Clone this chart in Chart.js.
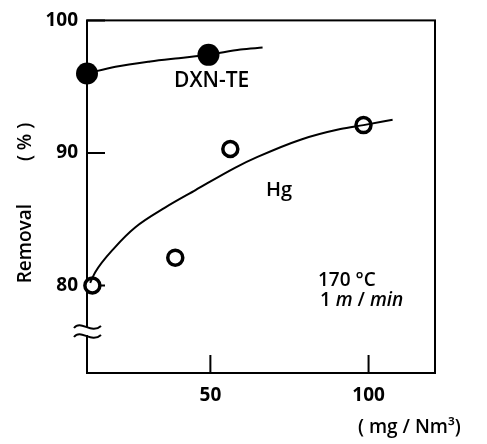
<!DOCTYPE html>
<html>
<head>
<meta charset="utf-8">
<script src="https://cdn.jsdelivr.net/npm/chart.js@4/dist/chart.umd.min.js"></script>
<style>
    html, body { margin: 0; padding: 0; background: #fff; }
    #wrap { width: 487px; height: 444px; }
</style>
</head>
<body>
<div id="wrap"><canvas id="removalChart" width="487" height="444"></canvas></div>
<script>
// values
const dxnPointsX = [11, 49.4];
const dxnPointsY = [96.0, 97.4];
const dxnCurveX = [11, 20, 31, 40, 49.4, 59.5, 66.5];
const dxnCurveY = [96.0, 96.5, 96.9, 97.15, 97.4, 97.8, 97.95];

const hgPointsX = [12.7, 38.9, 56.3, 98.4];
const hgPointsY = [80.0, 82.1, 90.3, 92.1];
const hgCurveX = [12, 13.6, 19.9, 26.3, 35.8, 45.3, 57.9, 64.9, 78.5, 91.1, 98.4, 107.6];
const hgCurveY = [80.2, 81.0, 82.9, 84.4, 85.9, 87.2, 88.9, 89.7, 91.0, 91.8, 92.1, 92.5];

const xTicks = [50, 100];
const yTicks = [80, 90, 100];
const xRange = [11, 121];
const yRange = [73.4, 100];

const FONT = "'Open Sans', 'Noto Sans', sans-serif";

function toPoints(xs, ys) {
    return xs.map((x, i) => ({ x: x, y: ys[i] }));
}

const framePlugin = {
    id: "frame",
    beforeDatasetsDraw(chart) {
        const { ctx, chartArea } = chart;
        const xs = chart.scales.x;
        const ys = chart.scales.y;
        ctx.save();
        ctx.strokeStyle = "#000";
        ctx.lineWidth = 2;
        ctx.strokeRect(chartArea.left, chartArea.top, chartArea.right - chartArea.left, chartArea.bottom - chartArea.top);

        // inward tick marks
        ctx.beginPath();
        yTicks.forEach(v => {
            const py = ys.getPixelForValue(v);
            ctx.moveTo(chartArea.left, py);
            ctx.lineTo(chartArea.left + 18, py);
        });
        xTicks.forEach(v => {
            const px = xs.getPixelForValue(v);
            ctx.moveTo(px, chartArea.bottom);
            ctx.lineTo(px, chartArea.bottom - 18);
        });
        ctx.stroke();
        ctx.restore();
    },
    afterDatasetsDraw(chart) {
        const { ctx, chartArea } = chart;
        const x0 = chartArea.left;
        const yb = 331;
        ctx.save();
        // axis break
        ctx.fillStyle = "#fff";
        ctx.fillRect(x0 - 3, yb - 4, 6, 8);
        ctx.strokeStyle = "#000";
        ctx.lineWidth = 2;
        [yb - 5, yb + 4].forEach(y => {
            ctx.beginPath();
            ctx.moveTo(x0 - 13, y + 2);
            ctx.bezierCurveTo(x0 - 6, y - 7, x0 + 4, y + 9, x0 + 14, y);
            ctx.stroke();
        });
        ctx.restore();
    },
    afterDraw(chart) {
        const { ctx } = chart;
        ctx.save();
        ctx.fillStyle = "#000";
        ctx.textBaseline = "alphabetic";
        ctx.font = "600 21px " + FONT;
        ctx.fillText("DXN-TE", 174, 87);
        ctx.font = "600 20px " + FONT;
        ctx.fillText("Hg", 266, 196);

        ctx.font = "600 19px " + FONT;
        ctx.fillText("170 \u00B0C", 318, 286);

        // "1 m / min" with italic units
        let x = 320;
        const parts = [["1 ", false], ["m", true], [" / ", false], ["min", true]];
        parts.forEach(([t, it]) => {
            ctx.font = (it ? "italic " : "") + "600 19px " + FONT;
            ctx.fillText(t, x, 306);
            x += ctx.measureText(t).width;
        });

        ctx.font = "600 19px " + FONT;
        ctx.fillText("( mg / Nm\u00B3)", 358, 433);
        ctx.restore();
    }
};

new Chart(document.getElementById("removalChart"), {
    type: "scatter",
    data: {
        datasets: [
            {
                label: "DXN-TE fit",
                type: "line",
                data: toPoints(dxnCurveX, dxnCurveY),
                borderColor: "#000",
                borderWidth: 2,
                pointRadius: 0,
                cubicInterpolationMode: "monotone",
                clip: false
            },
            {
                label: "DXN-TE",
                data: toPoints(dxnPointsX, dxnPointsY),
                backgroundColor: "#000",
                borderColor: "#000",
                pointRadius: 11,
                borderWidth: 0,
                clip: false
            },
            {
                label: "Hg fit",
                type: "line",
                data: toPoints(hgCurveX, hgCurveY),
                borderColor: "#000",
                borderWidth: 2,
                pointRadius: 0,
                cubicInterpolationMode: "monotone",
                clip: false
            },
            {
                label: "Hg",
                data: toPoints(hgPointsX, hgPointsY),
                backgroundColor: "#fff",
                borderColor: "#000",
                pointRadius: 7.5,
                borderWidth: 3.5,
                clip: false
            }
        ]
    },
    options: {
        responsive: false,
        animation: false,
        events: [],
        layout: {
            autoPadding: false,
            padding: { left: 0, top: 11, right: 52, bottom: 0 }
        },
        plugins: {
            legend: { display: false },
            tooltip: { enabled: false }
        },
        scales: {
            x: {
                type: "linear",
                min: xRange[0],
                max: xRange[1],
                afterBuildTicks: s => { s.ticks = xTicks.map(v => ({ value: v })); },
                afterFit: s => { s.height = 71; },
                grid: { display: false, drawTicks: false },
                border: { display: false },
                ticks: {
                    padding: 11,
                    color: "#000",
                    font: { family: FONT, size: 19, weight: "700" }
                }
            },
            y: {
                type: "linear",
                min: yRange[0],
                max: yRange[1],
                afterBuildTicks: s => { s.ticks = yTicks.map(v => ({ value: v })); },
                afterFit: s => { s.width = 87; },
                grid: { display: false, drawTicks: false },
                border: { display: false },
                ticks: {
                    padding: 9,
                    color: "#000",
                    font: { family: FONT, size: 19, weight: "700" }
                },
                title: {
                    display: true,
                    text: "Removal\u2003\u2003 ( % )\u2002\u2009",
                    color: "#000",
                    padding: { top: 14, bottom: 0 },
                    font: { family: FONT, size: 19, weight: "600" }
                }
            }
        }
    },
    plugins: [framePlugin]
});
</script>
</body>
</html>
